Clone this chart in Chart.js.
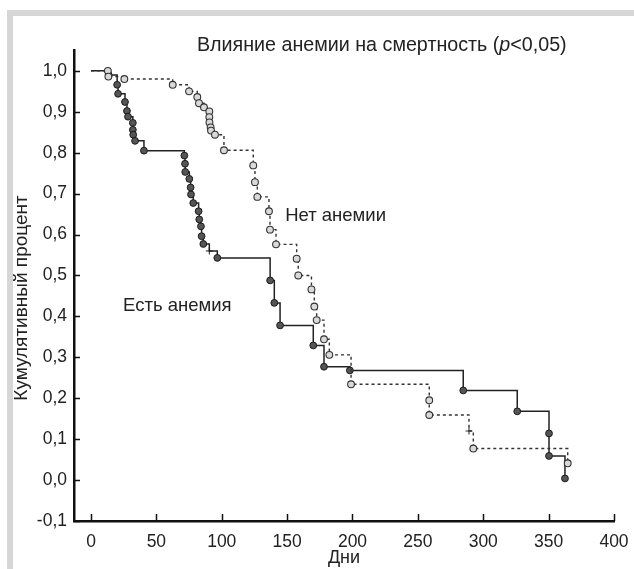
<!DOCTYPE html>
<html>
<head>
<meta charset="utf-8">
<script src="https://cdn.jsdelivr.net/npm/chart.js@4.4.0/dist/chart.umd.min.js"></script>
<style>
  html, body { margin: 0; padding: 0; background: #fff; }
  #wrap { position: relative; width: 634px; height: 569px; overflow: hidden; }
  #frame { position: absolute; left: 7px; top: 10px; right: 0; bottom: 0;
           border-left: 6px solid #d6d6d6; border-top: 6px solid #d6d6d6; }
  #chart { position: absolute; left: 0; top: 0; }
</style>
</head>
<body>
<div id="wrap"><div id="frame"></div><canvas id="chart" width="634" height="569"></canvas></div>
<script>
'use strict';

// Есть анемия (сплошная линия, тёмные точки)
const anemiaDays = [0, 13.5, 20, 20.7, 26, 27.5, 28.3, 32, 32, 32.3, 33.7, 40.5,
  71.4, 71.9, 72.1, 75.2, 76.2, 76.5, 78.2, 82.3, 82.8, 84.1, 84.6, 85.9, 96.6,
  137, 140.2, 144.6, 170, 178.2, 198, 284.7, 326, 350.3, 350.3, 362.5];
const anemiaSurv = [1.0, 0.99, 0.966, 0.944, 0.924, 0.902, 0.888, 0.873, 0.856, 0.844, 0.829, 0.805,
  0.793, 0.773, 0.753, 0.736, 0.715, 0.698, 0.677, 0.657, 0.637, 0.620, 0.596, 0.577, 0.543,
  0.488, 0.433, 0.378, 0.329, 0.277, 0.268, 0.219, 0.168, 0.114, 0.059, 0.004];
const anemiaCensorDays = [90.5];
const anemiaCensorSurv = [0.56];

// Нет анемии (пунктир, светлые кружки)
const noAnemiaDays = [0, 12.9, 13.3, 25.5, 62.5, 75, 81.3, 82.6, 86.4, 90.5, 90.5, 90.6, 91.5, 91.8, 94.8,
  101.7, 124.1, 125.4, 127.2, 136.1, 136.9, 141.5, 157.3, 158.5, 168.6, 170.8, 172.6, 178.2, 182.3,
  198.9, 258.7, 258.7, 292.4, 364.6];
const noAnemiaSurv = [1.0, 1.0, 0.986, 0.98, 0.966, 0.95, 0.936, 0.921, 0.911, 0.901, 0.887, 0.874, 0.862, 0.854, 0.844,
  0.806, 0.769, 0.728, 0.692, 0.657, 0.612, 0.576, 0.541, 0.50, 0.466, 0.424, 0.391, 0.344, 0.306,
  0.234, 0.195, 0.159, 0.077, 0.041];
const noAnemiaCensorDays = [289.1];
const noAnemiaCensorSurv = [0.12];

const xTicks = [0, 50, 100, 150, 200, 250, 300, 350, 400];
const yTicks = [-0.1, 0, 0.1, 0.2, 0.3, 0.4, 0.5, 0.6, 0.7, 0.8, 0.9, 1.0];

const titleParts = ['Влияние анемии на смертность (', 'p', '<0,05)'];
const xTitle = 'Дни';
const yTitle = 'Кумулятивный процент';
const labelNo = { text: 'Нет анемии', day: 148.5, surv: 0.645 };
const labelYes = { text: 'Есть анемия', day: 24.5, surv: 0.425 };

const FONT = '"Liberation Sans", Arial, sans-serif';

// merge events and censored marks, keeping order by day
function buildSeries(days, surv, cDays, cSurv) {
  const pts = days.map((d, i) => ({ x: d, y: surv[i], kind: i === 0 ? 'start' : 'event' }));
  cDays.forEach((d, i) => pts.push({ x: d, y: cSurv[i], kind: 'censor' }));
  pts.sort((a, b) => a.x - b.x || b.y - a.y);
  return pts;
}

const anemiaPts = buildSeries(anemiaDays, anemiaSurv, anemiaCensorDays, anemiaCensorSurv);
const noAnemiaPts = buildSeries(noAnemiaDays, noAnemiaSurv, noAnemiaCensorDays, noAnemiaCensorSurv);

function markStyle(pts) {
  return ctx => {
    const p = pts[ctx.dataIndex];
    return p && p.kind === 'censor' ? 'cross' : 'circle';
  };
}
function markRadius(pts) {
  return ctx => {
    const p = pts[ctx.dataIndex];
    if (!p || p.kind === 'start') return 0;
    return p.kind === 'censor' ? 3.5 : 3.4;
  };
}

const decor = {
  id: 'decor',
  afterDraw(chart) {
    const { ctx, chartArea: a, scales: { x, y } } = chart;
    ctx.save();
    // inward tick marks
    ctx.strokeStyle = '#111';
    ctx.lineWidth = 1.5;
    ctx.beginPath();
    xTicks.forEach(v => {
      const px = Math.round(x.getPixelForValue(v)) + 0.5;
      ctx.moveTo(px, a.bottom);
      ctx.lineTo(px, a.bottom - 7);
    });
    yTicks.forEach(v => {
      const py = Math.round(y.getPixelForValue(v)) + 0.5;
      ctx.moveTo(a.left, py);
      ctx.lineTo(a.left + 6, py);
    });
    ctx.stroke();

    // curve labels
    ctx.fillStyle = '#222';
    ctx.font = '18.5px ' + FONT;
    ctx.textBaseline = 'middle';
    ctx.textAlign = 'left';
    [labelNo, labelYes].forEach(l => {
      ctx.fillText(l.text, x.getPixelForValue(l.day), y.getPixelForValue(l.surv));
    });

    // title with italic p
    const fonts = ['19.7px ' + FONT, 'italic 19.7px ' + FONT, '19.7px ' + FONT];
    let tx = x.getPixelForValue(81);
    const ty = 46;
    titleParts.forEach((t, i) => {
      ctx.font = fonts[i];
      ctx.fillText(t, tx, ty);
      tx += ctx.measureText(t).width;
    });

    // y axis title, rotated
    ctx.font = '19px ' + FONT;
    ctx.textAlign = 'center';
    ctx.translate(22, y.getPixelForValue(0.445));
    ctx.rotate(-Math.PI / 2);
    ctx.fillText(yTitle, 0, 0);
    ctx.restore();
  }
};

const canvasElem = document.getElementById('chart');
new Chart(canvasElem, {
  type: 'scatter',
  data: {
    datasets: [{
      label: 'Нет анемии',
      data: noAnemiaPts,
      showLine: true,
      stepped: 'before',
      borderColor: '#333',
      borderWidth: 1.4,
      borderDash: [3, 3],
      pointStyle: markStyle(noAnemiaPts),
      pointRadius: markRadius(noAnemiaPts),
      pointBackgroundColor: '#d9d9d9',
      pointBorderColor: '#333',
      pointBorderWidth: 1.1
    }, {
      label: 'Есть анемия',
      data: anemiaPts,
      showLine: true,
      stepped: 'before',
      borderColor: '#222',
      borderWidth: 1.5,
      pointStyle: markStyle(anemiaPts),
      pointRadius: markRadius(anemiaPts),
      pointBackgroundColor: '#555',
      pointBorderColor: '#1a1a1a',
      pointBorderWidth: 1
    }]
  },
  options: {
    responsive: false,
    animation: false,
    devicePixelRatio: 1,
    layout: { padding: { top: 50, right: 20, left: 0, bottom: 0 } },
    plugins: {
      legend: { display: false },
      tooltip: { enabled: false }
    },
    scales: {
      x: {
        type: 'linear',
        min: -13,
        max: 400,
        afterBuildTicks: s => { s.ticks = xTicks.map(v => ({ value: v })); },
        afterFit: s => { s.height = 48; s.paddingLeft = 0; s.paddingRight = 0; },
        grid: { display: false, drawTicks: false },
        border: { display: true, color: '#111', width: 2.5 },
        ticks: { color: '#222', padding: 11, maxRotation: 0, font: { family: FONT, size: 17.5 } },
        title: { display: true, text: xTitle, color: '#222', padding: { top: 0, bottom: 0 },
                 font: { family: FONT, size: 18 } }
      },
      y: {
        min: -0.1,
        max: 1.051,
        afterBuildTicks: s => { s.ticks = yTicks.map(v => ({ value: v })); },
        afterFit: s => { s.width = 74; },
        grid: { display: false, drawTicks: false },
        border: { display: true, color: '#111', width: 2.5 },
        ticks: { color: '#222', padding: 7, font: { family: FONT, size: 17.5 },
                 callback: v => v.toFixed(1).replace('.', ',') },
        title: { display: false }
      }
    }
  },
  plugins: [decor]
});
</script>
</body>
</html>
